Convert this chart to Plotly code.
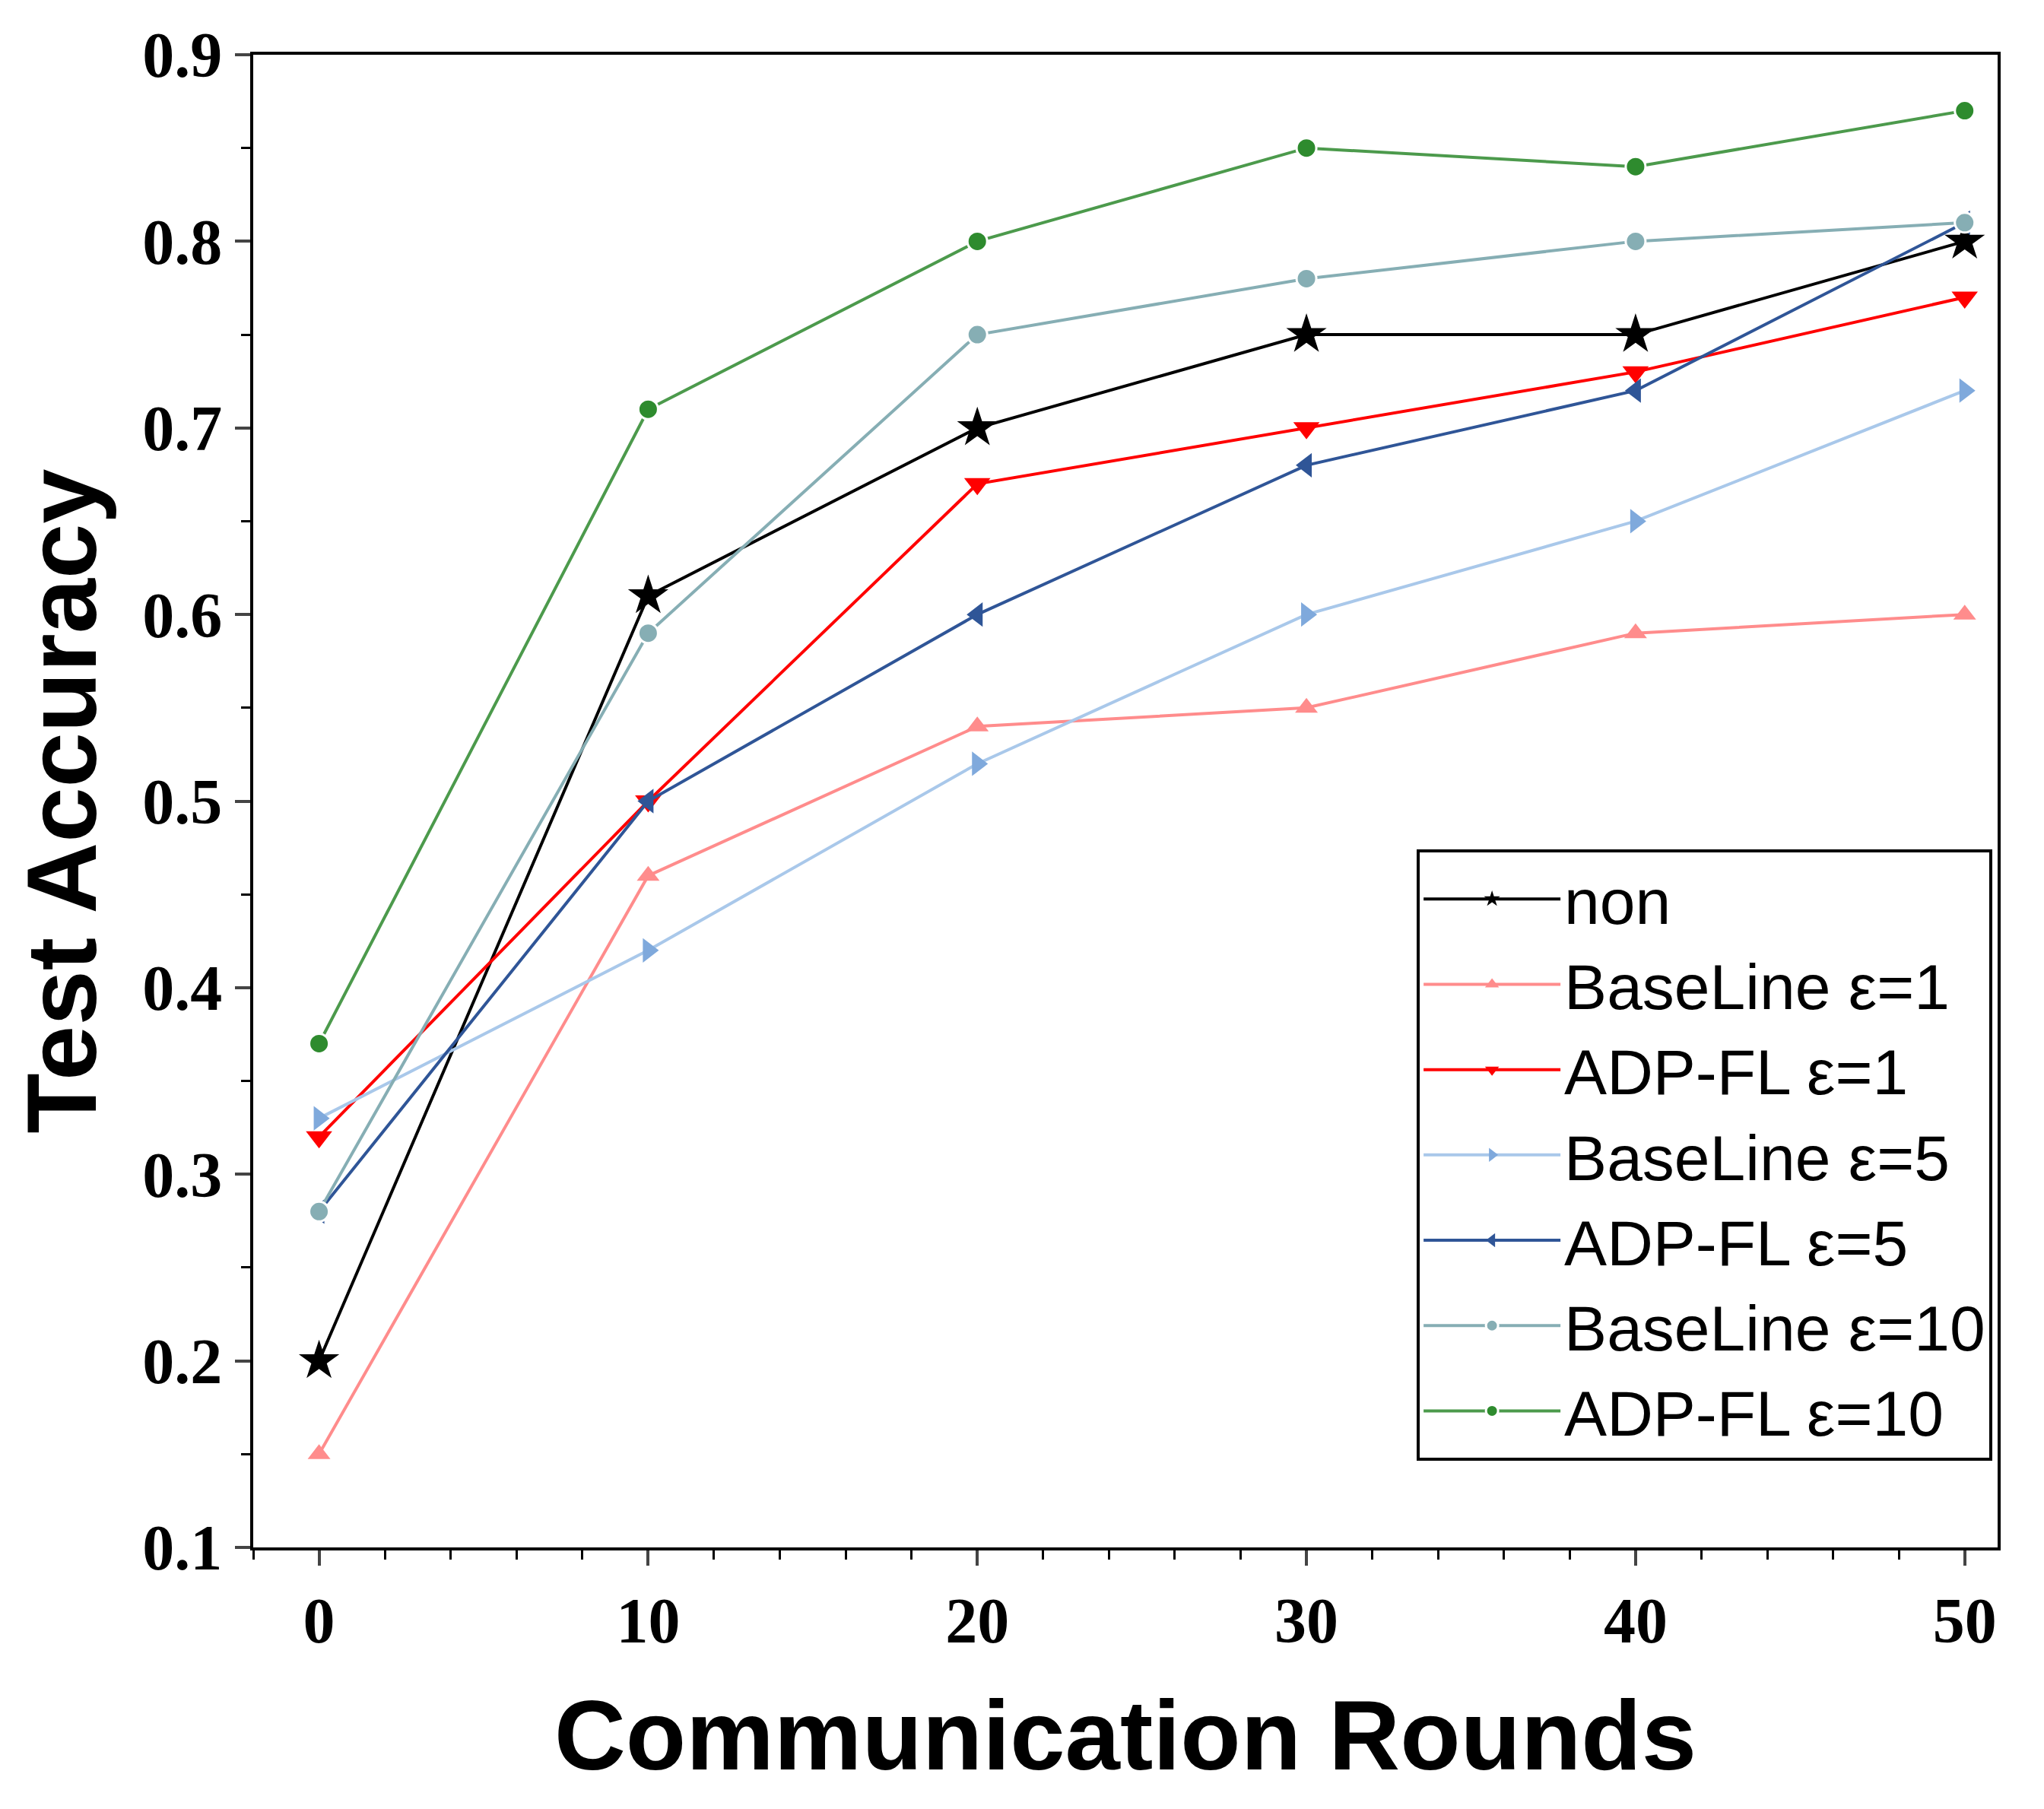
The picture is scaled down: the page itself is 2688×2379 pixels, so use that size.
import plotly.graph_objects as go

rounds = [0, 10, 20, 30, 40, 50]
non = [0.20, 0.61, 0.70, 0.75, 0.75, 0.80]
bl_e1 = [0.15, 0.46, 0.54, 0.55, 0.59, 0.60]
adp_e1 = [0.32, 0.50, 0.67, 0.70, 0.73, 0.77]
bl_e5 = [0.33, 0.42, 0.52, 0.60, 0.65, 0.72]
adp_e5 = [0.28, 0.50, 0.60, 0.68, 0.72, 0.81]
bl_e10 = [0.28, 0.59, 0.75, 0.78, 0.80, 0.81]
adp_e10 = [0.37, 0.71, 0.80, 0.85, 0.84, 0.87]

series = [
    ("non", non, "black", "star", "black", 40),
    ("BaseLine ε=1", bl_e1, "#ff8c8c", "triangle-up", "#ff8c8c", 26),
    ("ADP-FL ε=1", adp_e1, "#ff0000", "triangle-down", "#ff0000", 30),
    ("BaseLine ε=5", bl_e5, "#a9c8ea", "triangle-right", "#7fa9dc", 28),
    ("ADP-FL ε=5", adp_e5, "#2f5597", "triangle-left", "#2f5597", 28),
    ("BaseLine ε=10", bl_e10, "#86aeb4", "circle", "#86aeb4", 26),
    ("ADP-FL ε=10", adp_e10, "#4c9a4c", "circle", "#2e8b2e", 26),
]

fig = go.Figure()
for name, ys, col, sym, mcol, ms in series:
    mk = dict(symbol=sym, size=ms, color=mcol)
    if sym == "circle":
        mk = dict(symbol="circle", size=ms, color=mcol, line=dict(color="white", width=3))
    fig.add_trace(go.Scatter(x=rounds, y=ys, name=name, mode="lines+markers",
                             line=dict(color=col, width=4), marker=mk))

tickfont = dict(family="Liberation Serif", size=84, color="black", weight="bold")
fig.update_layout(
    width=2688, height=2379, paper_bgcolor="white", plot_bgcolor="white",
    margin=dict(l=325, r=69, t=64, b=352),
    showlegend=True,
    legend=dict(x=0.997, y=0.058, xanchor="right", yanchor="bottom",
                bordercolor="black", borderwidth=4, bgcolor="white",
                font=dict(family="Liberation Sans", size=84, color="black"),
                itemwidth=180, tracegroupgap=0),
)
fig.update_xaxes(range=[-2, 51], tickvals=rounds, tickfont=tickfont,
                 showline=True, linecolor="black", linewidth=4, mirror=True,
                 ticks="outside", ticklen=20, tickwidth=4, showgrid=False, zeroline=False,
                 minor=dict(dtick=2, ticks="outside", ticklen=12, tickwidth=3, tickcolor="black"),
                 title=dict(text="<b>Communication Rounds</b>",
                            font=dict(family="Liberation Sans", size=130, color="black"), standoff=60))
fig.update_yaxes(range=[0.1, 0.9], dtick=0.1, tickformat=".1f", tickfont=tickfont,
                 showline=True, linecolor="black", linewidth=4, mirror=True,
                 ticks="outside", ticklen=20, tickwidth=4, showgrid=False, zeroline=False,
                 minor=dict(dtick=0.05, ticks="outside", ticklen=12, tickwidth=3, tickcolor="black"),
                 title=dict(text="<b>Test Accuracy</b>",
                            font=dict(family="Liberation Sans", size=130, color="black"), standoff=40))
fig.write_html("out.html")
